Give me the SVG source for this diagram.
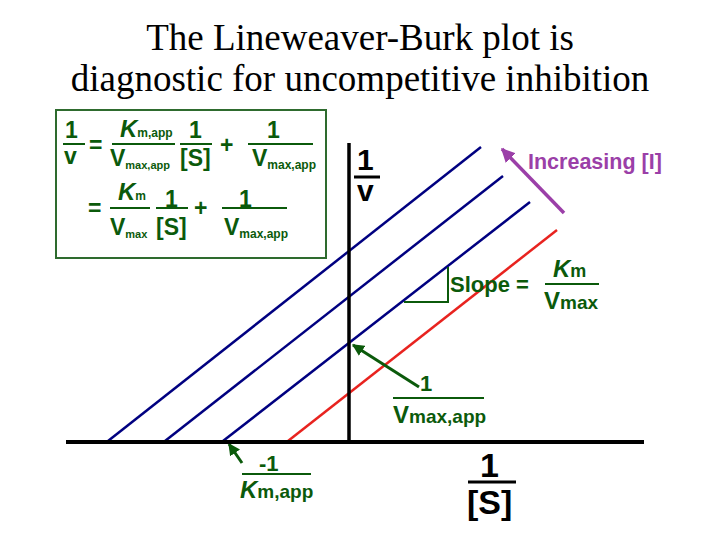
<svg xmlns="http://www.w3.org/2000/svg" width="720" height="540" viewBox="0 0 720 540">
<defs>
<style>
.t{font-family:"Liberation Serif",serif;font-size:37px;text-anchor:middle}
.s{font-family:"Liberation Sans",Arial,sans-serif;font-weight:bold;fill:#0b5a0b}
.fl{stroke:#0b5a0b;stroke-width:2}
.bl{stroke:#000080;stroke-width:2.5}
</style>
<marker id="ag" viewBox="0 0 10 10" refX="9" refY="5" markerWidth="4" markerHeight="4" orient="auto"><path d="M0,0L10,5L0,10z" fill="#0b5a0b"/></marker>
<marker id="ap" viewBox="0 0 10 10" refX="9" refY="5" markerWidth="4" markerHeight="4" orient="auto"><path d="M0,0L10,5L0,10z" fill="#9b3fa8"/></marker>
</defs>
<rect width="720" height="540" fill="#fff"/>
<text class="t" x="360" y="50">The Lineweaver-Burk plot is</text>
<text class="t" x="360" y="91">diagnostic for uncompetitive inhibition</text>
<g id="equation">
<rect x="56" y="110" width="270" height="148" fill="#fff" stroke="#2e6b2e" stroke-width="2"/>
<g class="s" font-size="23">
<text x="65" y="138">1</text><text x="64" y="164">v</text>
<text x="89" y="153">=</text>
<text x="120" y="137"><tspan font-style="italic" font-size="24">K</tspan><tspan font-size="12">m,app</tspan></text>
<text x="110" y="166">V<tspan font-size="11" dy="3">max,app</tspan></text>
<text x="189" y="138">1</text><text x="180" y="166">[S]</text>
<text x="220" y="153">+</text>
<text x="267" y="138">1</text>
<text x="252" y="166">V<tspan font-size="12" dy="3">max,app</tspan></text>
<text x="88" y="216">=</text>
<text x="118" y="200"><tspan font-style="italic" font-size="24">K</tspan><tspan font-size="12">m</tspan></text>
<text x="110" y="235">V<tspan font-size="11" dy="3">max</tspan></text>
<text x="165" y="207">1</text><text x="156" y="235">[S]</text>
<text x="194" y="216">+</text>
<text x="239" y="207">1</text>
<text x="224" y="235">V<tspan font-size="12" dy="3">max,app</tspan></text>
</g>
<g class="fl">
<line x1="63" y1="144" x2="85" y2="144"/>
<line x1="112" y1="144" x2="175" y2="144"/>
<line x1="180" y1="144" x2="212" y2="144"/>
<line x1="248" y1="144" x2="313" y2="144"/>
<line x1="110" y1="208" x2="150" y2="208"/>
<line x1="156" y1="208" x2="188" y2="208"/>
<line x1="222" y1="208" x2="287" y2="208"/>
</g>
</g>
<g id="connectors">
<line x1="108" y1="441" x2="481" y2="147" class="bl"/>
<line x1="165" y1="441" x2="503" y2="176" class="bl"/>
<line x1="223" y1="441" x2="530" y2="202" class="bl"/>
<line x1="288" y1="441" x2="557" y2="230" stroke="#e8231f" stroke-width="2.5"/>
<polyline points="404,302 448,302 448,267" fill="none" stroke="#0b5a0b" stroke-width="2"/>
<line x1="564" y1="213" x2="502" y2="149" stroke="#9b3fa8" stroke-width="3.5" marker-end="url(#ap)"/>
<line x1="419" y1="387" x2="353" y2="345" stroke="#0b5a0b" stroke-width="3" marker-end="url(#ag)"/>
<line x1="242" y1="463" x2="229" y2="444" stroke="#0b5a0b" stroke-width="3" marker-end="url(#ag)"/>
<line x1="349" y1="143" x2="349" y2="443" stroke="#000" stroke-width="3.5"/>
<line x1="66" y1="442" x2="644" y2="442" stroke="#000" stroke-width="4"/>
</g>
<g id="yaxis-label" class="s" font-size="30">
<text x="357" y="170" style="fill:#000">1</text>
<line x1="354" y1="177" x2="380" y2="177" stroke="#000" stroke-width="3"/>
<text x="357" y="201" style="fill:#000">v</text>
</g>
<g id="xaxis-label" class="s" font-size="34">
<text x="480" y="477" style="fill:#000">1</text>
<line x1="468" y1="482" x2="516" y2="482" stroke="#000" stroke-width="3"/>
<text x="467" y="514" style="fill:#000">[S]</text>
</g>
<g id="increasing"><text class="s" x="528" y="169" font-size="21.5" style="fill:#9b3fa8">Increasing [I]</text></g>
<g id="slope" class="s">
<text x="450" y="292" font-size="22">Slope =</text>
<text x="553" y="277" font-size="24"><tspan font-style="italic">K</tspan><tspan font-size="18">m</tspan></text>
<line x1="545" y1="284" x2="599" y2="284" stroke="#0b5a0b" stroke-width="2"/>
<text x="544" y="309" font-size="24">V<tspan font-size="19">max</tspan></text>
</g>
<g id="intercept-y" class="s">
<text x="420" y="391" font-size="22">1</text>
<line x1="393" y1="398" x2="484" y2="398" stroke="#0b5a0b" stroke-width="2"/>
<text x="393" y="423" font-size="24">V<tspan font-size="19">max,app</tspan></text>
</g>
<g id="intercept-x" class="s">
<text x="259" y="471" font-size="22">-1</text>
<line x1="242" y1="474" x2="311" y2="474" stroke="#0b5a0b" stroke-width="2"/>
<text x="240" y="498" font-size="24"><tspan font-style="italic">K</tspan><tspan font-size="19">m,app</tspan></text>
</g>
</svg>
